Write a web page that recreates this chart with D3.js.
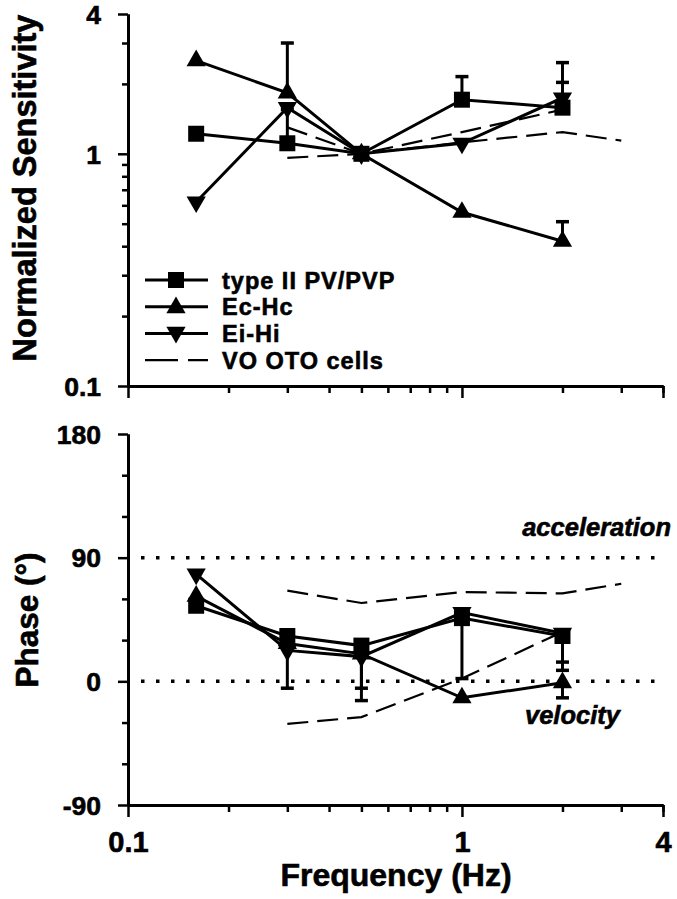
<!DOCTYPE html>
<html>
<head>
<meta charset="utf-8">
<script src="https://cdn.jsdelivr.net/npm/d3@7/dist/d3.min.js"></script>
<style>
  html, body { margin: 0; padding: 0; background: #fff; }
  svg { display: block; font-family: "Liberation Sans", Arial, Helvetica, sans-serif; }
</style>
</head>
<body>
<script>
// ---------------- data ----------------
const freq = [0.16, 0.3, 0.5, 1, 2];

const sensTypeII    = [1.22, 1.11, 1, 1.71, 1.58];
const sensTypeIIErr = [null, 1.55, null, 2.15, 2.03];
const sensEcHc      = [2.52, 1.83, 1, 0.56, 0.42];
const sensEcHcErr   = [null, 3.0, null, null, 0.51];
const sensEiHi      = [0.62, 1.58, 1, 1.11, 1.74];
const sensEiHiErr   = [null, null, null, null, 2.47];

const phaseTypeII    = [55, 33, 26, 46, 33];
const phaseTypeIIErr = [null, null, -14, 2, 14];
const phaseEcHc      = [62, 27.5, 20, -12, -1];
const phaseEcHcErr   = [null, null, null, null, -12];
const phaseEiHi      = [78, 22.5, 18, 50, 35];
const phaseEiHiErr   = [null, -5, -5, null, 8];

const votoFreqA  = [0.3, 0.5, 1, 2];
const votoSensA  = [1.30, 1, 1.24, 1.55];
const votoPhaseA = [-31, -26, 2, 36];
const votoFreqB  = [0.3, 0.5, 1, 2, 3];
const votoSensB  = [0.96, 1, 1.12, 1.24, 1.14];
const votoPhaseB = [66, 57, 65, 64, 71];

const xMajorTicks = [0.1, 1, 4];
const xTickLabels = ["0.1", "1", "4"];
const xMinorTicks = [0.2, 0.3, 0.4, 0.5, 0.6, 0.7, 0.8, 0.9, 2, 3, 4];
const sensMajorTicks = [0.1, 1, 4];
const sensTickLabels = ["0.1", "1", "4"];
const sensMinorTicks = [0.2, 0.3, 0.4, 0.5, 0.6, 0.7, 0.8, 0.9, 2, 3];
const phaseMajorTicks = [-90, 0, 90, 180];
const phaseMinorTicks = [-60, -30, 30, 60, 120, 150];
const phaseRefLines = [0, 90];

const legendLabels = ["type II PV/PVP", "Ec-Hc", "Ei-Hi", "VO OTO cells"];
const legendTypes  = ["square", "triUp", "triDown", "dash"];

// ---------------- setup ----------------
const W = 677, H = 899;
const svg = d3.select("body").append("svg").attr("width", W).attr("height", H);

const x  = d3.scaleLog().domain([0.1, 4]).range([128, 663]);
const yS = d3.scaleLog().domain([0.1, 4]).range([386, 14]);
const yP = d3.scaleLinear().domain([-90, 180]).range([805, 434]);

function boldText(sel) {
  return sel.attr("fill", "#000").attr("font-weight", "bold")
    .attr("stroke", "#000").attr("stroke-width", 0.6);
}

function styleAxis(g) {
  g.select(".domain").attr("stroke", "#000").attr("stroke-width", 3);
  g.selectAll(".tick line").attr("stroke", "#000").attr("stroke-width", 2.5);
  boldText(g.selectAll(".tick text"));
}

// ---- Y axes ----
function yAxis(scale, minor, major, labels) {
  const gm = svg.append("g").attr("transform", "translate(128,0)")
    .call(d3.axisLeft(scale).tickValues(minor).tickSize(6).tickSizeOuter(0).tickFormat(""));
  styleAxis(gm);
  const gM = svg.append("g").attr("transform", "translate(128,0)")
    .call(d3.axisLeft(scale).tickValues(major).tickSize(10).tickSizeOuter(0).tickPadding(17)
      .tickFormat((d, i) => labels[i]));
  styleAxis(gM);
  gM.selectAll(".tick text").attr("font-size", 26.5).attr("dy", "0.35em");
}
yAxis(yS, sensMinorTicks, sensMajorTicks, sensTickLabels);
yAxis(yP, phaseMinorTicks, phaseMajorTicks, phaseMajorTicks.map(String));

// ---- X axes ----
function xAxis(yPos, withLabels) {
  const gm = svg.append("g").attr("transform", `translate(0,${yPos})`)
    .call(d3.axisBottom(x).tickValues(xMinorTicks).tickSize(7).tickSizeOuter(0).tickFormat(""));
  styleAxis(gm);
  const gM = svg.append("g").attr("transform", `translate(0,${yPos})`)
    .call(d3.axisBottom(x).tickValues(xMajorTicks).tickSize(12).tickSizeOuter(0)
      .tickFormat((d, i) => withLabels ? xTickLabels[i] : ""));
  styleAxis(gM);
  gM.selectAll(".tick text").attr("font-size", 29).attr("y", 47).attr("dy", 0);
}
xAxis(386, false);
xAxis(805, true);

// ---- axis titles ----
boldText(svg.append("text").attr("transform", "translate(36,188) rotate(-90)")
  .attr("text-anchor", "middle").attr("font-size", 32.5))
  .text("Normalized Sensitivity");
boldText(svg.append("text").attr("transform", "translate(38,620) rotate(-90)")
  .attr("text-anchor", "middle").attr("font-size", 31.5))
  .text("Phase (°)");
boldText(svg.append("text").attr("x", 396).attr("y", 886)
  .attr("text-anchor", "middle").attr("font-size", 32))
  .text("Frequency (Hz)");

// ---- reference dotted lines ----
svg.selectAll(".ref").data(phaseRefLines).enter().append("line")
  .attr("x1", 141).attr("x2", 663)
  .attr("y1", d => yP(d)).attr("y2", d => yP(d))
  .attr("stroke", "#000").attr("stroke-width", 3.5).attr("stroke-dasharray", "3.5 11.5");

boldText(svg.append("text").attr("x", 671).attr("y", 536).attr("text-anchor", "end")
  .attr("font-size", 25.5).attr("font-style", "italic"))
  .text("acceleration");
boldText(svg.append("text").attr("x", 525).attr("y", 724)
  .attr("font-size", 25.5).attr("font-style", "italic"))
  .text("velocity");

// ---- dashed VO OTO lines ----
function dashed(fs, vs, yScale) {
  const pts = fs.map((f, i) => [x(f), yScale(vs[i])]);
  svg.append("path").attr("d", d3.line()(pts))
    .attr("fill", "none").attr("stroke", "#000").attr("stroke-width", 2.2)
    .attr("stroke-dasharray", "21 9");
}
dashed(votoFreqA, votoSensA, yS);
dashed(votoFreqB, votoSensB, yS);
dashed(votoFreqA, votoPhaseA, yP);
dashed(votoFreqB, votoPhaseB, yP);

// ---- series ----
const symSquare = d3.symbol(d3.symbolSquare, 256);
const symTri = d3.symbol(d3.symbolTriangle, 160);

function marker(g, type, cx, cy) {
  if (type === "square") {
    g.append("path").attr("d", symSquare()).attr("transform", `translate(${cx},${cy})`).attr("fill", "#000");
  } else if (type === "triUp") {
    g.append("path").attr("d", symTri()).attr("transform", `translate(${cx},${cy})`).attr("fill", "#000");
  } else if (type === "triDown") {
    g.append("path").attr("d", symTri()).attr("transform", `translate(${cx},${cy}) rotate(180)`).attr("fill", "#000");
  }
}

const seriesSens = [
  {v: sensTypeII, e: sensTypeIIErr, t: "square"},
  {v: sensEcHc, e: sensEcHcErr, t: "triUp"},
  {v: sensEiHi, e: sensEiHiErr, t: "triDown"}
];
const seriesPhase = [
  {v: phaseTypeII, e: phaseTypeIIErr, t: "square"},
  {v: phaseEcHc, e: phaseEcHcErr, t: "triUp"},
  {v: phaseEiHi, e: phaseEiHiErr, t: "triDown"}
];

function drawPanel(series, yScale) {
  const gl = svg.append("g"), ge = svg.append("g"), gm = svg.append("g");
  series.forEach(s => {
    const pts = freq.map((f, i) => [x(f), yScale(s.v[i])]);
    gl.append("path").attr("d", d3.line()(pts))
      .attr("fill", "none").attr("stroke", "#000").attr("stroke-width", 3);
    freq.forEach((f, i) => {
      if (s.e[i] == null) return;
      const cx = x(f);
      ge.append("line").attr("x1", cx).attr("x2", cx)
        .attr("y1", yScale(s.v[i])).attr("y2", yScale(s.e[i]))
        .attr("stroke", "#000").attr("stroke-width", 3);
      ge.append("line").attr("x1", cx - 6.5).attr("x2", cx + 6.5)
        .attr("y1", yScale(s.e[i])).attr("y2", yScale(s.e[i]))
        .attr("stroke", "#000").attr("stroke-width", 3.5);
    });
    freq.forEach((f, i) => marker(gm, s.t, x(f), yScale(s.v[i])));
  });
}
drawPanel(seriesSens, yS);
drawPanel(seriesPhase, yP);

// ---- legend ----
const lg = svg.append("g");
legendLabels.forEach((lab, i) => {
  const cy = 280 + i * 26.7;
  const ln = lg.append("line").attr("x1", 145).attr("x2", 208).attr("y1", cy).attr("y2", cy)
    .attr("stroke", "#000");
  if (legendTypes[i] === "dash") {
    ln.attr("stroke-width", 2.2).attr("stroke-dasharray", "33 10");
  } else {
    ln.attr("stroke-width", 3);
    marker(lg, legendTypes[i], 176, cy + (legendTypes[i] === "triUp" ? 1 : legendTypes[i] === "triDown" ? -1 : 0));
  }
  boldText(lg.append("text").attr("x", 222).attr("y", cy + 8.5)
    .attr("font-size", 23.5).attr("letter-spacing", 1)).text(lab);
});
</script>
</body>
</html>
